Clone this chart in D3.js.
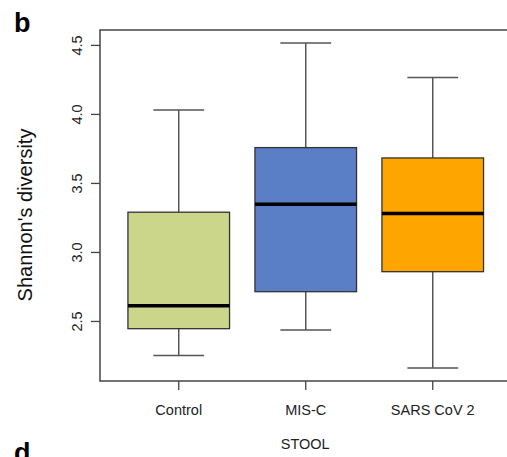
<!DOCTYPE html>
<html>
<head>
<meta charset="utf-8">
<script src="https://cdn.jsdelivr.net/npm/d3@7"></script>
<style>
  body { margin: 0; background: #fff; }
  text { font-family: "Liberation Sans", Arial, Helvetica, sans-serif; }
</style>
</head>
<body>
<div id="chart"></div>
<script>
// Shannon's diversity boxplot (stool)

// Pt. 0 - DATA
const groups = ["Control", "MIS-C", "SARS CoV 2"];
const lowerWhisker = [2.25, 2.435, 2.16];
const q1 = [2.444, 2.712, 2.857];
const medians = [2.61, 3.346, 3.278];
const q3 = [3.288, 3.756, 3.681];
const upperWhisker = [4.029, 4.514, 4.263];
const yTicks = [2.5, 3.0, 3.5, 4.0, 4.5];
const palette = ["#cbd68a", "#5b7fc7", "#ffa500"];

const data = groups.map((g, i) => ({
    group: g,
    lo: lowerWhisker[i],
    q1: q1[i],
    med: medians[i],
    q3: q3[i],
    hi: upperWhisker[i],
    color: palette[i]
}));

// Pt. 1 - SETUP
const width = 507,
      height = 457,
      margin = ({ top: 30, right: -5, bottom: 76, left: 100 });

let svg = d3.select("#chart")
    .append("svg")
    .attr("width", width)
    .attr("height", height)
    .attr("viewBox", [0, 0, width, height]);

// R style: x range 0.38..3.62, box width 0.8 of step
let x = d3.scaleBand()
    .domain(groups)
    .range([100 + 0.12 * 127, 100 + 0.12 * 127 + 3 * 127])
    .padding(0);

let y = d3.scaleLinear()
    .domain([2.065, 4.608])
    .range([height - margin.bottom, margin.top]);

const boxW = x.bandwidth() * 0.8;
const cx = d => x(d.group) + x.bandwidth() / 2;

// Pt. 2 - FRAME + AXES
svg.append("rect")
    .attr("x", margin.left)
    .attr("y", y(4.608))
    .attr("width", 412)
    .attr("height", y(2.065) - y(4.608))
    .attr("fill", "none")
    .attr("stroke", "#444")
    .attr("stroke-width", 1.5);

let yAxis = svg.append("g")
    .attr("transform", `translate(${margin.left}, 0)`)
    .call(d3.axisLeft(y).tickValues(yTicks).tickSize(9).tickFormat(d3.format(".1f")));
yAxis.select(".domain").remove();
yAxis.selectAll("line").attr("stroke", "#444").attr("stroke-width", 1.3);
yAxis.selectAll("text")
    .attr("x", null)
    .attr("dy", null)
    .attr("text-anchor", "middle")
    .attr("transform", "translate(-18,0) rotate(-90)")
    .attr("font-size", 14.5)
    .attr("fill", "#222");

let xAxis = svg.append("g")
    .attr("transform", `translate(0, ${y(2.065)})`)
    .call(d3.axisBottom(x).tickSize(9));
xAxis.select(".domain").remove();
xAxis.selectAll("line").attr("stroke", "#444").attr("stroke-width", 1.3);
xAxis.selectAll("text")
    .attr("y", 34)
    .attr("dy", null)
    .attr("font-size", 14.5)
    .attr("fill", "#222");

// axis titles
svg.append("text")
    .attr("x", (x(groups[0]) + x(groups[2]) + x.bandwidth()) / 2 - 0.5)
    .attr("y", 449)
    .attr("text-anchor", "middle")
    .attr("font-size", 14.5)
    .attr("fill", "#222")
    .text("STOOL");

svg.append("text")
    .attr("transform", `translate(32, 215) rotate(-90)`)
    .attr("text-anchor", "middle")
    .attr("font-size", 20)
    .attr("fill", "#111")
    .text("Shannon's diversity");

// panel letters
svg.append("text")
    .attr("x", 14).attr("y", 32)
    .attr("font-size", 27).attr("font-weight", "bold")
    .text("b");
svg.append("text")
    .attr("x", 14).attr("y", 462)
    .attr("font-size", 27).attr("font-weight", "bold")
    .text("d");

// Pt. 3 - BOXES
let box = svg.selectAll(".box")
    .data(data)
    .join("g")
    .attr("class", "box");

// whisker stems
box.append("line")
    .attr("x1", cx).attr("x2", cx)
    .attr("y1", d => y(d.hi)).attr("y2", d => y(d.q3))
    .attr("stroke", "#555").attr("stroke-width", 1.5);
box.append("line")
    .attr("x1", cx).attr("x2", cx)
    .attr("y1", d => y(d.q1)).attr("y2", d => y(d.lo))
    .attr("stroke", "#555").attr("stroke-width", 1.5);

// staples
box.append("line")
    .attr("x1", d => cx(d) - boxW / 4).attr("x2", d => cx(d) + boxW / 4)
    .attr("y1", d => y(d.hi)).attr("y2", d => y(d.hi))
    .attr("stroke", "#555").attr("stroke-width", 1.5);
box.append("line")
    .attr("x1", d => cx(d) - boxW / 4).attr("x2", d => cx(d) + boxW / 4)
    .attr("y1", d => y(d.lo)).attr("y2", d => y(d.lo))
    .attr("stroke", "#555").attr("stroke-width", 1.5);

// box
box.append("rect")
    .attr("x", d => cx(d) - boxW / 2)
    .attr("width", boxW)
    .attr("y", d => y(d.q3))
    .attr("height", d => y(d.q1) - y(d.q3))
    .attr("fill", d => d.color)
    .attr("stroke", "#333")
    .attr("stroke-width", 1.3);

// median
box.append("line")
    .attr("x1", d => cx(d) - boxW / 2).attr("x2", d => cx(d) + boxW / 2)
    .attr("y1", d => y(d.med)).attr("y2", d => y(d.med))
    .attr("stroke", "#000").attr("stroke-width", 3.5);
</script>
</body>
</html>
